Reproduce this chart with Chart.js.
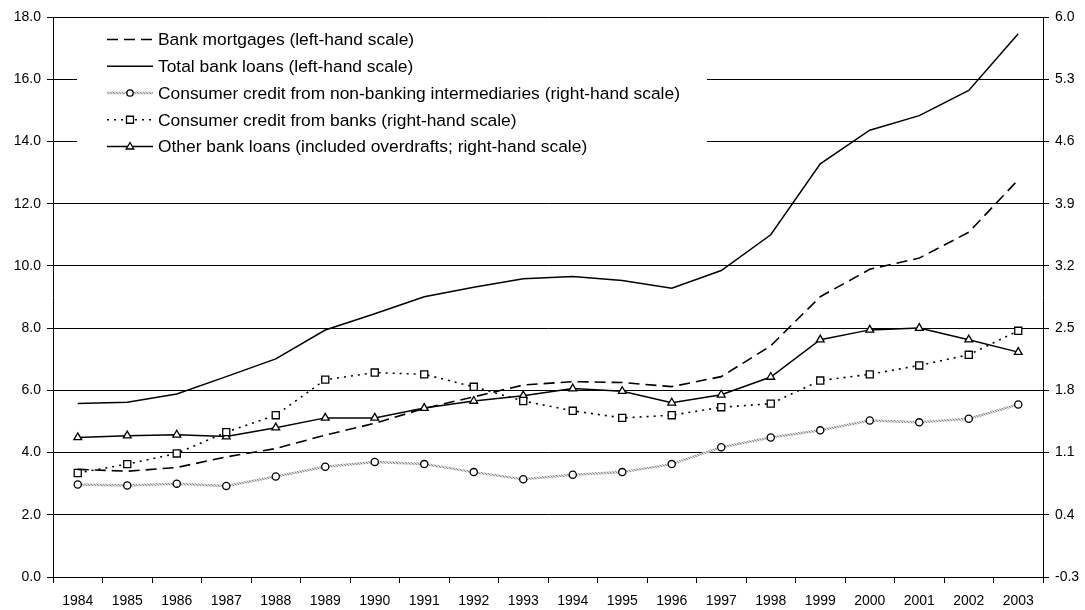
<!DOCTYPE html>
<html>
<head>
<meta charset="utf-8">
<script src="https://cdn.jsdelivr.net/npm/chart.js@4.4.1/dist/chart.umd.min.js"></script>
<style>
  html, body { margin: 0; padding: 0; background: #fff; }
  #wrap { width: 1085px; height: 610px; }
</style>
</head>
<body>
<div id="wrap"><canvas id="c" width="1085" height="610"></canvas></div>
<script>
const years = ['1984','1985','1986','1987','1988','1989','1990','1991','1992','1993','1994','1995','1996','1997','1998','1999','2000','2001','2002','2003'];
const bankMortgages = [3.46,3.40,3.52,3.86,4.13,4.56,4.94,5.42,5.79,6.17,6.28,6.25,6.12,6.44,7.43,9.01,9.89,10.25,11.08,12.77];
const totalBankLoans = [5.58,5.62,5.88,6.44,7.01,7.94,8.46,9.01,9.31,9.59,9.66,9.53,9.28,9.85,11.00,13.28,14.36,14.83,15.64,17.46];
const consumerNonBank = [0.74,0.73,0.75,0.725,0.83,0.94,0.995,0.97,0.88,0.80,0.85,0.88,0.97,1.16,1.27,1.35,1.46,1.44,1.48,1.64];
const consumerBanks = [0.87,0.97,1.09,1.33,1.52,1.92,2.00,1.98,1.84,1.68,1.57,1.49,1.52,1.61,1.65,1.91,1.98,2.08,2.20,2.47];
const otherBankLoans = [1.27,1.29,1.30,1.28,1.38,1.49,1.49,1.60,1.68,1.74,1.82,1.79,1.66,1.75,1.95,2.37,2.48,2.50,2.37,2.23];
const leftTicks = [0,2,4,6,8,10,12,14,16,18];
const rightTicks = [-0.3,0.4,1.1,1.8,2.5,3.2,3.9,4.6,5.3,6.0];
const seriesNames = [
  'Bank mortgages (left-hand scale)',
  'Total bank loans (left-hand scale)',
  'Consumer credit from non-banking intermediaries (right-hand scale)',
  'Consumer credit from banks (right-hand scale)',
  'Other bank loans (included overdrafts; right-hand scale)'
];

const FONT = "'Liberation Sans', Arial, Helvetica, sans-serif";

// light hatched grey line (texture like the original)
function makeHatch() {
  const c = document.createElement('canvas');
  c.width = 3; c.height = 3;
  const g = c.getContext('2d');
  g.fillStyle = '#d6d6d6';
  g.fillRect(0, 0, 3, 3);
  g.fillStyle = '#8c8c8c';
  g.fillRect(0, 0, 1, 1);
  g.fillRect(1, 1, 1, 1);
  g.fillRect(2, 2, 1, 1);
  return g.createPattern(c, 'repeat');
}
const HATCH = makeHatch();

const datasets = [
  { label: seriesNames[0], data: bankMortgages, yAxisID: 'y', borderColor: '#000', borderWidth: 1.6, borderDash: [11, 6], pointRadius: 0, fill: false },
  { label: seriesNames[1], data: totalBankLoans, yAxisID: 'y', borderColor: '#000', borderWidth: 1.5, pointRadius: 0, fill: false },
  { label: seriesNames[2], data: consumerNonBank, yAxisID: 'y1', borderColor: HATCH, borderWidth: 2.5, pointStyle: 'circle', pointRadius: 3.6, pointBorderWidth: 1.3, pointBorderColor: '#000', pointBackgroundColor: '#fff', fill: false },
  { label: seriesNames[3], data: consumerBanks, yAxisID: 'y1', borderColor: '#000', borderWidth: 1.6, borderDash: [2, 5], pointStyle: 'rect', pointRadius: 5, pointBorderWidth: 1.3, pointBorderColor: '#000', pointBackgroundColor: '#fff', fill: false },
  { label: seriesNames[4], data: otherBankLoans, yAxisID: 'y1', borderColor: '#000', borderWidth: 1.5, pointStyle: 'triangle', pointRadius: 4.5, pointBorderWidth: 1.3, pointBorderColor: '#000', pointBackgroundColor: '#fff', fill: false }
];

function drawMarker(ctx, style, x, y) {
  ctx.save();
  ctx.setLineDash([]);
  ctx.fillStyle = '#fff';
  ctx.strokeStyle = '#000';
  ctx.lineWidth = 1.3;
  ctx.beginPath();
  if (style === 'circle') {
    ctx.arc(x, y, 3.2, 0, Math.PI * 2);
  } else if (style === 'rect') {
    ctx.rect(x - 3.5, y - 3.5, 7, 7);
  } else if (style === 'triangle') {
    ctx.moveTo(x, y - 4);
    ctx.lineTo(x + 3.8, y + 2.5);
    ctx.lineTo(x - 3.8, y + 2.5);
    ctx.closePath();
  }
  ctx.fill();
  ctx.stroke();
  ctx.restore();
}

const legendPlugin = {
  id: 'boxLegend',
  beforeDatasetsDraw(chart) {
    const ctx = chart.ctx;
    ctx.save();
    ctx.fillStyle = '#fff';
    ctx.fillRect(77, 26, 630, 142);
    const x0 = 107, x1 = 153, tx = 158;
    const rowY0 = 39.5, step = 26.75;
    chart.data.datasets.forEach((ds, i) => {
      const y = rowY0 + i * step;
      ctx.save();
      ctx.strokeStyle = ds.borderColor;
      ctx.lineWidth = ds.borderWidth;
      ctx.setLineDash(ds.borderDash || []);
      ctx.beginPath();
      ctx.moveTo(x0, y);
      ctx.lineTo(x1, y);
      ctx.stroke();
      ctx.restore();
      if (ds.pointRadius > 0) drawMarker(ctx, ds.pointStyle, (x0 + x1) / 2, y);
      ctx.fillStyle = '#000';
      ctx.font = '17.4px ' + FONT;
      ctx.textBaseline = 'middle';
      ctx.textAlign = 'left';
      ctx.fillText(ds.label, tx, y + 1);
    });
    ctx.restore();
  }
};

const tickFont = { family: FONT, size: 14 };

new Chart(document.getElementById('c'), {
  type: 'line',
  data: { labels: years, datasets: datasets },
  options: {
    responsive: false,
    animation: false,
    devicePixelRatio: 1,
    layout: { padding: { top: 17, left: 0, right: 0, bottom: 0 } },
    elements: { line: { tension: 0 } },
    plugins: { legend: { display: false }, tooltip: { enabled: false } },
    scales: {
      x: {
        type: 'category',
        offset: true,
        grid: { offset: true, drawOnChartArea: false, drawTicks: true, tickLength: 6, color: '#000', lineWidth: 1 },
        border: { display: true, color: '#000', width: 1 },
        ticks: { color: '#000', font: tickFont, padding: 10, maxRotation: 0, autoSkip: false },
        afterFit(s) { s.height = 33; }
      },
      y: {
        position: 'left',
        min: 0, max: 18,
        afterBuildTicks(s) { s.ticks = leftTicks.map(v => ({ value: v })); },
        ticks: { color: '#000', font: tickFont, padding: 6, callback: v => Number(v).toFixed(1) },
        grid: { color: '#000', lineWidth: 1, drawTicks: true, tickLength: 6 },
        border: { display: true, color: '#000', width: 1 },
        afterFit(s) { s.width = 53; }
      },
      y1: {
        position: 'right',
        min: -0.3, max: 6.0,
        afterBuildTicks(s) { s.ticks = rightTicks.map(v => ({ value: v })); },
        ticks: { color: '#000', font: tickFont, padding: 6, callback: v => Number(v).toFixed(1) },
        grid: { drawOnChartArea: false, drawTicks: true, tickLength: 6, color: '#000', lineWidth: 1 },
        border: { display: true, color: '#000', width: 1 },
        afterFit(s) { s.width = 42; }
      }
    }
  },
  plugins: [legendPlugin]
});
</script>
</body>
</html>
